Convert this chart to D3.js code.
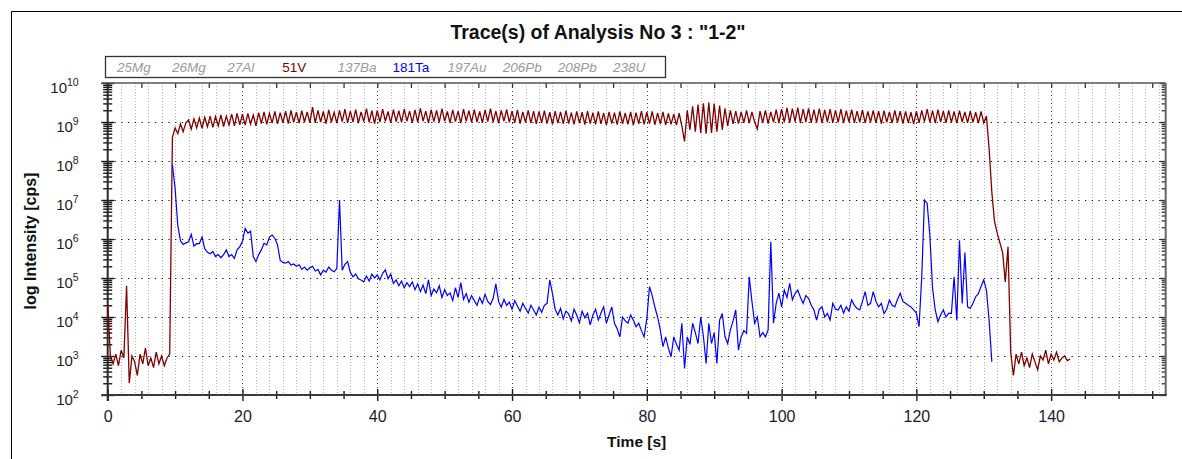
<!DOCTYPE html>
<html><head><meta charset="utf-8">
<script src="https://cdn.jsdelivr.net/npm/d3@7"></script>
<style>
html,body{margin:0;padding:0;background:#fff;}
text{font-family:"Liberation Sans",Arial,sans-serif;}
</style></head>
<body><svg id="chart" width="1182" height="459"></svg>
<script>
// ---------------- data ----------------
const titleText = 'Trace(s) of Analysis No 3 : "1-2"';
const xTitle = "Time [s]";
const yTitle = "log Intensity [cps]";
const legendLabels = ["25Mg","26Mg","27Al","51V","137Ba","181Ta","197Au","206Pb","208Pb","238U"];
const xTickLabels = [0,20,40,60,80,100,120,140];
const yDecadeExps = [2,3,4,5,6,7,8,9,10];
const timeStep = 0.4;          // s between sweeps
const v51Start = 0;            // s
const ta181Start = 9.6;        // s
// 51V  log10(cps), one value per sweep
const v51Log = [
4.3,3.0,2.8,3.05,2.75,3.15,2.95,4.8,2.3,3.0,
2.85,2.5,3.05,2.8,3.2,2.75,2.95,2.7,3.1,2.8,
3.0,2.75,2.95,3.05,8.6,8.85,8.7,8.95,8.75,8.98,
9.05,8.82,9.08,8.85,9.1,8.84,9.12,8.88,9.15,8.86,
9.14,8.9,9.18,8.88,9.15,8.92,9.2,8.9,9.22,8.93,
9.2,8.92,9.22,8.95,9.18,8.9,9.24,8.96,9.26,8.94,
9.22,8.97,9.27,8.95,9.24,8.98,9.28,8.96,9.3,8.99,
9.25,8.97,9.29,9.0,9.26,8.98,9.38,8.98,9.3,9.0,
9.27,8.96,9.31,9.0,9.25,8.97,9.3,9.01,9.33,8.98,
9.28,9.0,9.32,8.97,9.26,9.01,9.34,8.99,9.29,8.96,
9.3,9.0,9.33,9.02,9.27,8.98,9.32,9.01,9.29,8.99,
9.33,9.02,9.28,8.98,9.31,9.0,9.35,9.02,9.28,8.97,
9.32,9.01,9.3,8.99,9.34,9.02,9.27,8.98,9.31,9.01,
9.28,8.97,9.33,9.02,9.29,8.99,9.32,9.0,9.27,8.98,
9.31,9.01,9.34,9.0,9.28,8.97,9.3,9.02,9.32,8.99,
9.28,8.98,9.31,8.96,9.26,8.99,9.3,8.97,9.28,8.95,
9.27,8.98,9.29,8.96,9.25,8.94,9.28,8.97,9.26,8.95,
9.29,8.96,9.24,8.94,9.27,8.97,9.25,8.93,9.28,8.96,
9.24,8.94,9.27,8.95,9.23,8.92,9.26,8.96,9.24,8.93,
9.27,8.95,9.23,8.94,9.26,8.92,9.24,8.95,9.28,8.94,
9.25,8.96,9.27,8.93,9.23,8.95,9.26,8.92,9.22,8.94,
9.2,8.92,9.23,8.9,8.5,9.3,8.8,9.4,8.75,9.45,
8.72,9.48,8.7,9.5,8.72,9.47,8.75,9.42,8.8,9.35,
8.9,9.3,8.95,9.28,8.96,9.26,8.98,9.3,8.97,9.26,
9.0,8.82,9.28,8.98,9.3,8.96,9.26,8.99,9.32,8.97,
9.33,8.99,9.36,8.98,9.34,9.01,9.37,8.97,9.33,9.0,
9.35,8.98,9.32,8.99,9.34,8.97,9.31,9.0,9.33,8.98,
9.3,8.99,9.33,8.97,9.29,9.0,9.32,8.98,9.28,8.99,
9.31,8.97,9.27,9.0,9.3,8.98,9.28,8.96,9.29,8.99,
9.26,8.97,9.3,8.99,9.28,8.96,9.27,8.98,9.25,8.95,
9.28,8.98,9.3,9.01,9.33,8.99,9.29,8.97,9.32,9.0,
9.28,8.98,9.3,8.99,9.27,8.97,9.29,9.0,9.26,8.98,
9.28,8.99,9.25,8.97,9.27,8.98,9.15,8.3,7.2,6.45,
6.15,5.9,5.65,4.9,5.8,3.1,2.5,3.05,2.8,3.1,
2.75,2.95,2.7,3.05,2.85,2.65,3.0,2.9,3.15,2.8,
3.05,2.9,3.1,2.85,2.95,3.0,2.88,2.92
];
// 181Ta  log10(cps), one value per sweep
const ta181Log = [
7.9,7.3,6.35,5.95,5.86,5.9,5.93,6.12,5.82,5.88,
5.88,6.05,5.75,5.66,5.62,5.68,5.55,5.6,5.52,5.6,
5.72,5.55,5.6,5.5,5.72,5.8,5.95,6.27,6.15,6.2,
5.55,5.42,5.6,5.72,5.89,5.85,6.05,6.1,6.02,5.85,
5.45,5.4,5.38,5.42,5.33,5.36,5.3,5.34,5.22,5.28,
5.2,5.26,5.3,5.18,5.22,5.08,5.2,5.15,5.28,5.2,
5.16,5.25,7.0,5.2,5.35,5.42,5.15,5.03,5.1,4.98,
4.95,4.9,5.05,4.92,5.1,5.0,5.08,4.95,5.12,5.21,
4.98,5.1,4.86,4.95,4.8,4.92,4.75,4.88,4.78,4.9,
4.7,4.85,4.65,4.82,4.6,4.95,4.55,4.72,4.62,4.8,
4.5,4.7,4.55,4.62,4.42,4.75,4.5,4.88,4.45,4.6,
4.38,4.55,4.42,4.3,4.5,4.35,4.58,4.4,4.32,4.48,
4.85,4.4,4.25,4.45,4.3,4.38,4.2,4.42,4.28,4.15,
4.35,4.22,4.1,4.3,4.18,4.05,4.25,4.12,4.3,4.35,
4.95,4.6,4.2,4.05,4.22,3.95,4.15,4.08,3.9,4.2,
4.05,3.85,4.15,3.98,4.1,3.8,4.05,4.2,3.92,4.1,
4.26,3.84,4.05,4.26,3.84,3.7,3.49,4.0,3.9,3.84,
4.05,3.92,3.75,3.84,3.65,3.49,3.96,4.78,4.55,4.25,
4.0,3.67,3.24,3.49,3.2,2.98,3.49,3.3,3.15,3.84,
2.68,3.49,3.3,3.84,3.6,3.32,4.0,3.5,2.81,3.84,
3.32,3.6,2.81,3.92,4.09,3.5,3.32,3.67,3.9,4.18,
3.15,3.49,3.65,3.58,5.03,4.4,3.84,4.0,3.49,3.6,
3.49,3.67,5.93,3.84,4.35,4.61,4.26,4.69,4.5,4.86,
4.44,4.6,4.69,4.5,4.35,4.55,4.48,4.3,4.18,3.92,
4.2,4.26,4.0,4.09,3.92,4.35,4.2,4.18,4.3,4.1,
4.26,4.15,4.44,4.3,4.22,4.18,4.4,4.65,4.3,4.35,
4.65,4.4,4.26,4.35,4.09,4.2,4.44,4.3,4.26,4.45,
4.61,4.4,4.35,4.3,4.26,4.18,4.1,3.75,5.03,7.0,
6.92,6.1,4.75,4.18,3.88,4.05,4.18,4.0,4.1,4.09,
5.03,3.92,5.97,4.35,5.65,4.26,4.22,4.35,4.52,4.6,
4.78,4.95,4.69,3.9,2.85
];

// ---------------- styles ----------------
const activeColors = {"51V":"#800000","181Ta":"#0000ff"};
const inactiveColor = "#9a9a9a";

// ---------------- chart ----------------
const svg = d3.select("#chart");
const W = 1182, H = 459;
const P = {left:107.7, right:1165.7, top:83, bottom:395};
const xMax = 157;

svg.append("rect").attr("width",W).attr("height",H).attr("fill","#fff");
// outer frame
svg.append("path").attr("d",`M11.5,${H} V11.5 H${W}`).attr("fill","none").attr("stroke","#000").attr("stroke-width",1);

const x = d3.scaleLinear().domain([0,xMax]).range([P.left,P.right]);
const y = d3.scaleLog().domain([1e2,1e10]).range([P.bottom,P.top]);

const toPts = (arr,start) => arr.map((v,i)=>({t:start+i*timeStep, c:Math.pow(10,v)}));

// grid
const grid = svg.append("g");
const minorV = d3.range(2,xMax,2).filter(d=>d%20!==0);
const majorV = d3.range(20,xMax,20);
grid.selectAll("line.vmin").data(minorV).join("line")
  .attr("x1",d=>Math.round(x(d))+0.5).attr("x2",d=>Math.round(x(d))+0.5)
  .attr("y1",P.top).attr("y2",P.bottom)
  .attr("stroke","#b4b4b4").attr("stroke-width",1).attr("stroke-dasharray","1,2");
grid.selectAll("line.vmaj").data(majorV).join("line")
  .attr("x1",d=>Math.round(x(d))+0.5).attr("x2",d=>Math.round(x(d))+0.5)
  .attr("y1",P.top).attr("y2",P.bottom)
  .attr("stroke","#444").attr("stroke-width",1).attr("stroke-dasharray","1,3");
const gridH = yDecadeExps.slice(1,-1).map(e=>Math.pow(10,e));
const pxPerSec = x(1)-x(0);
grid.selectAll("line.h").data(gridH).join("line")
  .attr("x1",P.left).attr("x2",P.right)
  .attr("y1",d=>Math.round(y(d))+0.5).attr("y2",d=>Math.round(y(d))+0.5)
  .attr("stroke","#111").attr("stroke-width",1.2)
  .attr("stroke-dasharray",`1.3,${(pxPerSec-1.3).toFixed(2)}`);

// axes
const majorY = yDecadeExps.map(e=>Math.pow(10,e));
const minorY = [];
yDecadeExps.slice(0,-1).forEach(e=>{ for(let k=2;k<=9;k++) minorY.push(k*Math.pow(10,e)); });

// left axis
const gL = svg.append("g").attr("transform",`translate(${P.left},0)`)
  .call(d3.axisLeft(y).tickValues(majorY.concat(minorY)).tickFormat(()=>"" ).tickSize(6));
gL.select(".domain").remove();
gL.selectAll(".tick line")
  .attr("stroke","#1a1a1a").attr("stroke-width",1.4)
  .attr("x1",d=>majorY.includes(d)?6.5:4.5).attr("x2",d=>majorY.includes(d)?-6.5:-4.5);
gL.selectAll(".tick text").remove();
gL.selectAll(".tick").filter(d=>majorY.includes(d)).append("text")
  .attr("x",-29).attr("y",9).attr("text-anchor","end").attr("fill","#1c1c28")
  .style("font-size","15px")
  .each(function(d){
    const t = d3.select(this);
    const e = Math.round(Math.log10(d));
    t.append("tspan").text("10");
    t.append("tspan").attr("dy",-7).style("font-size","10.5px").text(e);
  });

// right axis
const gR = svg.append("g").attr("transform",`translate(${P.right},0)`)
  .call(d3.axisRight(y).tickValues(majorY.concat(minorY)).tickFormat(()=>"").tickSize(-4));
gR.select(".domain").remove();
gR.selectAll(".tick line").attr("stroke","#333").attr("stroke-width",1.3)
  .attr("x2",d=>majorY.includes(d)?-6:-4);

// bottom axis
const xTickVals = d3.range(0,xMax,5);
const gB = svg.append("g").attr("transform",`translate(0,${P.bottom})`)
  .call(d3.axisBottom(x).tickValues(xTickVals).tickSize(4)
    .tickFormat(d=>xTickLabels.includes(d)?String(d):""));
gB.select(".domain").remove();
gB.selectAll(".tick line").attr("stroke","#1a1a1a").attr("stroke-width",1.4)
  .attr("y1",d=>d%20===0?-6:-4).attr("y2",d=>d%20===0?6:4);
gB.selectAll(".tick text").attr("y",27).attr("dy",0).attr("fill","#1c1c28").style("font-size","16px");

// top axis
const gT = svg.append("g").attr("transform",`translate(0,${P.top})`)
  .call(d3.axisTop(x).tickValues(xTickVals).tickSize(-5).tickFormat(()=>""));
gT.select(".domain").remove();
gT.selectAll(".tick line").attr("stroke","#333").attr("stroke-width",1.3);

// frame lines of plot
svg.append("line").attr("x1",P.left-6).attr("x2",P.right).attr("y1",P.top).attr("y2",P.top)
  .attr("stroke","#555").attr("stroke-width",1.6);
svg.append("line").attr("x1",P.right).attr("x2",P.right).attr("y1",P.top).attr("y2",P.bottom)
  .attr("stroke","#666").attr("stroke-width",2);
svg.append("line").attr("x1",P.left-6).attr("x2",P.right+1).attr("y1",P.bottom).attr("y2",P.bottom)
  .attr("stroke","#3a3a3a").attr("stroke-width",2);
svg.append("line").attr("x1",P.left).attr("x2",P.left).attr("y1",P.top).attr("y2",P.bottom+6)
  .attr("stroke","#2a2a2a").attr("stroke-width",2);

// traces
const line = d3.line().x(d=>x(d.t)).y(d=>y(d.c));
svg.append("path").datum(toPts(v51Log,v51Start)).attr("d",line)
  .attr("fill","none").attr("stroke",activeColors["51V"]).attr("stroke-width",1.3).attr("stroke-linejoin","miter");
svg.append("path").datum(toPts(ta181Log,ta181Start)).attr("d",line)
  .attr("fill","none").attr("stroke",activeColors["181Ta"]).attr("stroke-width",1.2);

// title
svg.append("text").attr("x",598).attr("y",39).attr("text-anchor","middle")
  .style("font-size","19.5px").style("font-weight","bold").attr("fill","#111").text(titleText);

// legend
svg.append("rect").attr("x",105.5).attr("y",56.5).attr("width",560).attr("height",21)
  .attr("fill","#fff").attr("stroke","#333").attr("stroke-width",1.3);
svg.selectAll("text.leg").data(legendLabels).join("text")
  .attr("x",(d,i)=>117+i*55.1).attr("y",72)
  .style("font-size","13.5px")
  .style("font-style",d=>activeColors[d]?"normal":"italic")
  .attr("fill",d=>activeColors[d]||inactiveColor)
  .text(d=>d);

// axis titles
svg.append("text").attr("x",(P.left+P.right)/2).attr("y",447).attr("text-anchor","middle")
  .style("font-size","15.5px").style("font-weight","bold").attr("fill","#111").text(xTitle);
svg.append("text").attr("transform",`translate(36,${(P.top+P.bottom)/2+2}) rotate(-90)`)
  .attr("text-anchor","middle").style("font-size","16px").style("font-weight","bold")
  .attr("fill","#111").text(yTitle);
</script></body></html>
